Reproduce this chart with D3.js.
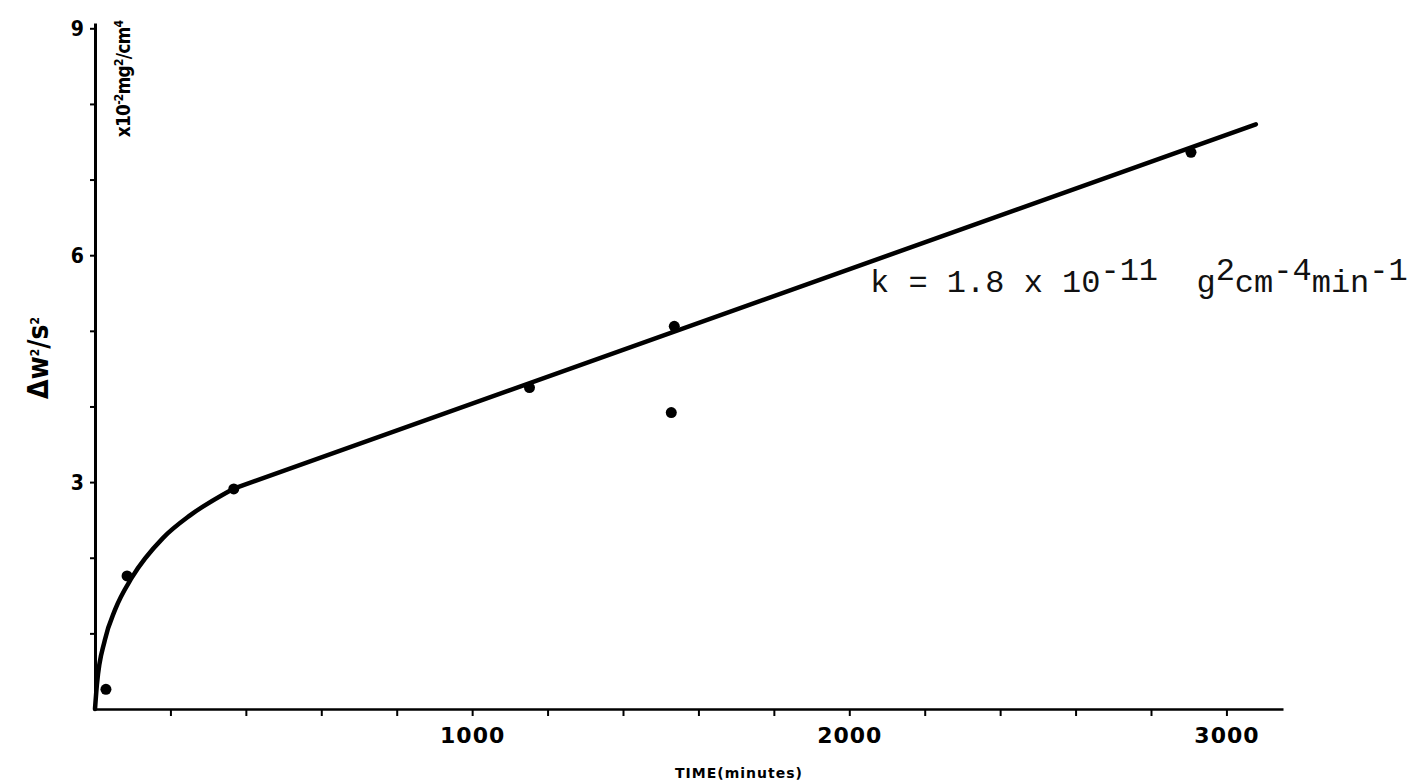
<!DOCTYPE html>
<html>
<head>
<meta charset="utf-8">
<script src="https://cdn.jsdelivr.net/npm/d3@7"></script>
<style>
  html, body { margin: 0; padding: 0; background: #fff; }
  svg { display: block; }
</style>
</head>
<body>
<div class="chart"></div>
<script>
// measured points (time in minutes, dW^2/S^2 in 10^-2 mg^2/cm^4)
const pointTimes = [29, 85, 368, 1152, 1536, 1528, 2906]
const pointValues = [0.26, 1.76, 2.91, 4.25, 5.06, 3.92, 7.36]

// hand drawn fit: parabolic start (curved part), then a straight line
const curveTimes = [0, 5, 26, 53, 98, 180, 252, 366]
const curveValues = [0, 0.32, 0.91, 1.31, 1.74, 2.26, 2.56, 2.91]
const lineTimes = [366, 3078]
const lineValues = [2.91, 7.73]

const xTicks = d3.range(200, 3001, 200)
const xLabels = [1000, 2000, 3000]
const yTicks = d3.range(1, 10)
const yLabels = [3, 6, 9]

const width = 1424
const height = 782

const svg = d3.select('.chart')
  .append('svg')
  .attr('width', width)
  .attr('height', height)

const x = d3.scaleLinear().domain([0, 3150]).range([95, 1283])
const y = d3.scaleLinear().domain([0, 9.07]).range([709, 23])

// x axis
const xAxis = svg.append('g')
  .attr('transform', `translate(0, ${y(0)})`)
  .call(d3.axisBottom(x)
    .tickValues(xTicks)
    .tickSizeInner(7)
    .tickSizeOuter(0)
    .tickFormat(d => xLabels.includes(d) ? d : ''))

xAxis.select('.domain').attr('stroke', '#000').attr('stroke-width', 2.6)
xAxis.selectAll('.tick line').attr('stroke', '#000').attr('stroke-width', 2)
xAxis.selectAll('.tick text')
  .attr('y', 34)
  .attr('dy', 0)
  .attr('fill', '#000')
  .attr('font-family', 'DejaVu Sans, sans-serif')
  .attr('font-weight', 'bold')
  .attr('font-size', 22)
  .attr('letter-spacing', 1)

// y axis
const yAxis = svg.append('g')
  .attr('transform', `translate(${x(0)}, 0)`)
  .call(d3.axisLeft(y)
    .tickValues(yTicks)
    .tickSizeInner(5)
    .tickSizeOuter(0)
    .tickFormat(d => yLabels.includes(d) ? d : ''))

yAxis.select('.domain').attr('stroke', '#000').attr('stroke-width', 3)
yAxis.selectAll('.tick line').attr('stroke', '#000').attr('stroke-width', 2)
yAxis.selectAll('.tick text')
  .attr('x', -11)
  .attr('dy', '0.36em')
  .attr('fill', '#000')
  .attr('font-family', 'DejaVu Sans Condensed, DejaVu Sans, sans-serif')
  .attr('font-stretch', 'condensed')
  .attr('font-weight', 'bold')
  .attr('font-size', 21)

// fit: curved part
const curve = d3.line()
  .curve(d3.curveMonotoneX)
  .x((d, i) => x(curveTimes[i]))
  .y(d => y(d))

svg.append('path')
  .datum(curveValues)
  .attr('d', curve)
  .attr('fill', 'none')
  .attr('stroke', '#000')
  .attr('stroke-width', 4.5)
  .attr('stroke-linecap', 'round')

// fit: straight part
const straight = d3.line()
  .x((d, i) => x(lineTimes[i]))
  .y(d => y(d))

svg.append('path')
  .datum(lineValues)
  .attr('d', straight)
  .attr('fill', 'none')
  .attr('stroke', '#000')
  .attr('stroke-width', 4.5)
  .attr('stroke-linecap', 'round')

// data points
svg.append('g')
  .selectAll('circle')
  .data(pointValues)
  .enter()
  .append('circle')
  .attr('cx', (d, i) => x(pointTimes[i]))
  .attr('cy', d => y(d))
  .attr('r', 5.5)
  .attr('fill', '#000')

// axis titles
svg.append('text')
  .attr('x', 739)
  .attr('y', 778)
  .attr('text-anchor', 'middle')
  .attr('font-family', 'DejaVu Sans, sans-serif')
  .attr('font-weight', 'bold')
  .attr('font-size', 14)
  .attr('letter-spacing', 1)
  .text('TIME(minutes)')

const yTitle = svg.append('text')
  .attr('transform', 'translate(48, 358) rotate(-90)')
  .attr('text-anchor', 'middle')
  .attr('font-family', 'DejaVu Sans Condensed, DejaVu Sans, sans-serif')
  .attr('font-stretch', 'condensed')
  .attr('font-weight', 'bold')
  .attr('font-size', 28)
yTitle.append('tspan').text('Δw')
yTitle.append('tspan').attr('baseline-shift', '75%').attr('font-size', 12).text('2')
yTitle.append('tspan').text('/s')
yTitle.append('tspan').attr('baseline-shift', '75%').attr('font-size', 12).text('2')

const unit = svg.append('text')
  .attr('transform', 'translate(130, 79) rotate(-90)')
  .attr('text-anchor', 'middle')
  .attr('font-family', 'DejaVu Sans Condensed, DejaVu Sans, sans-serif')
  .attr('font-stretch', 'condensed')
  .attr('font-weight', 'bold')
  .attr('font-size', 19)
  .attr('letter-spacing', -0.8)
unit.append('tspan').text('x10')
unit.append('tspan').attr('baseline-shift', '60%').attr('font-size', 12).text('-2')
unit.append('tspan').text('mg')
unit.append('tspan').attr('baseline-shift', '60%').attr('font-size', 12).text('2')
unit.append('tspan').text('/cm')
unit.append('tspan').attr('baseline-shift', '60%').attr('font-size', 12).text('4')

// rate constant annotation
const note = svg.append('text')
  .attr('x', 870)
  .attr('y', 292)
  .attr('font-family', 'Liberation Mono, DejaVu Sans Mono, monospace')
  .attr('font-size', 32)
  .attr('fill', '#111')
  .attr('xml:space', 'preserve')
note.append('tspan').text('k = 1.8 x 10')
note.append('tspan').attr('dy', -12).text('-11')
note.append('tspan').attr('dy', 12).text('  g')
note.append('tspan').attr('dy', -12).text('2')
note.append('tspan').attr('dy', 12).text('cm')
note.append('tspan').attr('dy', -12).text('-4')
note.append('tspan').attr('dy', 12).text('min')
note.append('tspan').attr('dy', -12).text('-1')
</script>
</body>
</html>
